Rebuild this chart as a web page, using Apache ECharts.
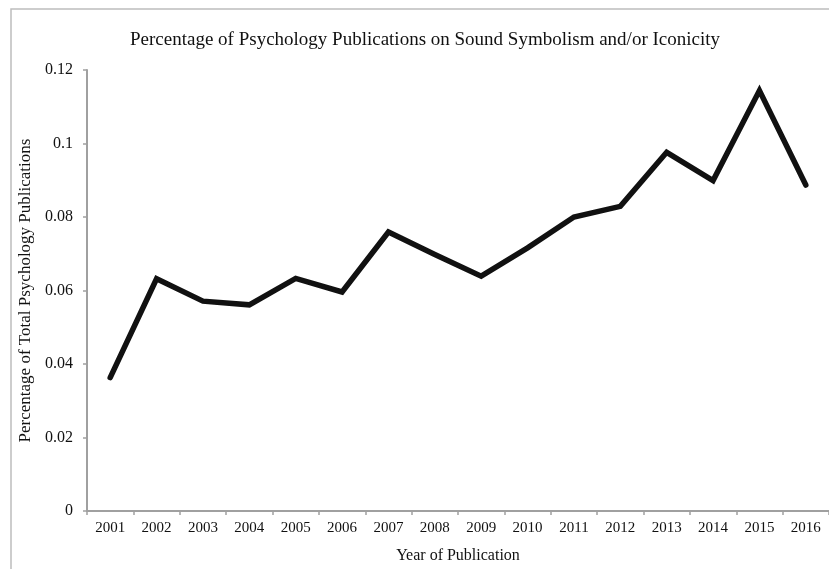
<!DOCTYPE html>
<html>
<head>
<meta charset="utf-8">
<script src="https://cdn.jsdelivr.net/npm/echarts@6/dist/echarts.min.js"></script>
<style>html,body{margin:0;padding:0;background:#fff}#c{width:829px;height:569px}</style>
</head>
<body>
<div id="c"></div>
<script>
const years = ['2001','2002','2003','2004','2005','2006','2007','2008','2009','2010','2011','2012','2013','2014','2015','2016'];
const percentages = [0.0363,0.0632,0.0571,0.0561,0.0633,0.0596,0.0759,0.0698,0.0639,0.0716,0.0800,0.0829,0.0976,0.0899,0.1144,0.0887];
const yTicks = [0, 0.02, 0.04, 0.06, 0.08, 0.1, 0.12];

const font = 'Liberation Serif, Times New Roman, serif';
const chart = echarts.init(document.getElementById('c'), null, {renderer: 'canvas'});
chart.setOption({
  animation: false,
  backgroundColor: '#fff',
  textStyle: {fontFamily: font},
  graphic: [{
    type: 'rect', silent: true, z: -1,
    shape: {x: 11, y: 9, width: 840, height: 580},
    style: {fill: 'none', stroke: '#bdbdbd', lineWidth: 1.5}
  }],
  title: {
    text: 'Percentage of Psychology Publications on Sound Symbolism and/or Iconicity',
    left: 125, top: 26,
    textStyle: {fontFamily: font, fontSize: 19, fontWeight: 'normal', color: '#111'}
  },
  grid: {left: 87, right: 0, top: 70, bottom: 57, containLabel: false},
  xAxis: {
    type: 'category', data: years, boundaryGap: true,
    name: 'Year of Publication', nameLocation: 'middle', nameGap: 37,
    nameTextStyle: {fontFamily: font, fontSize: 16, color: '#111'},
    axisLine: {lineStyle: {color: '#a0a0a0', width: 2}},
    axisTick: {show: true, length: 4, lineStyle: {color: '#a0a0a0', width: 1.5}},
    axisLabel: {fontFamily: font, fontSize: 15, color: '#111', margin: 10, interval: 0}
  },
  yAxis: {
    type: 'value', min: 0, max: 0.12, interval: 0.02,
    name: 'Percentage of Total Psychology Publications', nameLocation: 'middle', nameGap: 52, nameRotate: 90,
    nameTextStyle: {fontFamily: font, fontSize: 17, color: '#111'},
    axisLine: {show: true, lineStyle: {color: '#a0a0a0', width: 2}},
    axisTick: {show: true, length: 4, lineStyle: {color: '#a0a0a0', width: 1.5}},
    splitLine: {show: false},
    axisLabel: {fontFamily: font, fontSize: 16, color: '#111', margin: 14,
      formatter: v => { const t = yTicks.find(x => Math.abs(x - v) < 1e-9); return String(t !== undefined ? t : v); }}
  },
  series: [{
    type: 'line', data: percentages, showSymbol: false, symbol: 'none',
    lineStyle: {color: '#111', width: 5.5, cap: 'round', join: 'miter'}
  }]
});
</script>
</body>
</html>
